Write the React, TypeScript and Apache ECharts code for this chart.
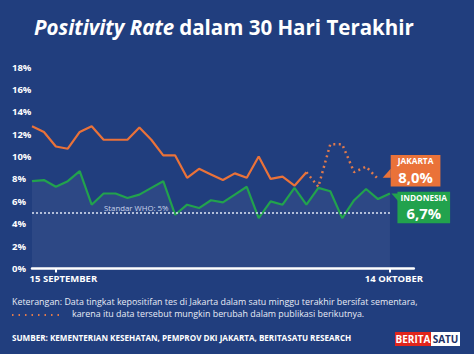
import React, { useEffect, useRef } from "react";
import * as echarts from "echarts";

const dates = [
  "13 Sep", "14 Sep", "15 Sep", "16 Sep", "17 Sep", "18 Sep", "19 Sep", "20 Sep",
  "21 Sep", "22 Sep", "23 Sep", "24 Sep", "25 Sep", "26 Sep", "27 Sep", "28 Sep",
  "29 Sep", "30 Sep", "1 Okt", "2 Okt", "3 Okt", "4 Okt", "5 Okt", "6 Okt",
  "7 Okt", "8 Okt", "9 Okt", "10 Okt", "11 Okt", "12 Okt", "13 Okt", "14 Okt", "15 Okt",
];

const jakarta = [
  12.7, 12.2, 10.9, 10.7, 12.2, 12.7, 11.5, 11.5, 11.5, 12.6, 11.5, 10.1, 10.1, 8.1, 8.9,
  8.4, 7.9, 8.5, 8.1, 10.0, 8.0, 8.2, 7.4, 8.6, 7.3, 11.1, 11.1, 8.6, 9.1, 8.0,
];

const indonesia = [
  7.8, 7.9, 7.3, 7.8, 8.7, 5.7, 6.7, 6.7, 6.3, 6.6, 7.2, 7.8, 4.8, 5.7, 5.4, 6.1,
  5.9, 6.6, 7.3, 4.5, 6.0, 5.7, 7.2, 5.7, 7.2, 6.9, 4.5, 6.1, 7.1, 6.2, 6.7,
];

const provisionalFrom = 23;
const whoStandard = 5;

const tickLabelIndex = [2, 30];
const tickLabelText = ["15 SEPTEMBER", "14 OKTOBER"];
const tickLabelPad = [15, 8];

const yTicks = { min: 0, max: 18, interval: 2 };

const BG = "#213e7e";
const ORANGE = "#ea7239";
const GREEN = "#22a24d";
const FONT = "Open Sans";

const fmt = (v: number) => v.toFixed(1).replace(".", ",") + "%";

export default function App() {
  const ref = useRef<HTMLDivElement>(null);
  useEffect(() => {
    if (!ref.current) return;
    const chart = echarts.init(ref.current, undefined, { renderer: "svg" });

    const jakSolid = jakarta.map((v, i) => (i <= provisionalFrom ? v : null));
    const jakDotted = jakarta.map((v, i) => (i >= provisionalFrom ? v : null));
    const jLast = jakarta.length - 1;
    const iLast = indonesia.length - 1;

    const calloutRich = {
      a: { fontFamily: FONT, fontWeight: "bold", fontSize: 8.3, color: "#fff", align: "center", lineHeight: 12 },
      b: { fontFamily: FONT, fontWeight: "bold", fontSize: 14.8, color: "#fff", align: "center", lineHeight: 19.5 },
    };

    chart.setOption({
      animation: false,
      backgroundColor: BG,
      title: {
        text: "{i|Positivity Rate} {n|dalam 30 Hari Terakhir}",
        left: 29,
        top: 11,
        textStyle: {
          rich: {
            i: { fontFamily: FONT, fontStyle: "italic", fontWeight: "bold", fontSize: 20.5, color: "#fff" },
            n: { fontFamily: FONT, fontWeight: "bold", fontSize: 20.5, color: "#fff" },
          },
        },
      },
      grid: { left: 32, right: 60.2, top: 67, bottom: 85.5, containLabel: false },
      xAxis: {
        type: "category",
        data: dates,
        boundaryGap: false,
        axisLine: { show: true, lineStyle: { color: "#ffffff", width: 2.5 } },
        axisTick: {
          show: true,
          interval: (idx: number) => tickLabelIndex.includes(idx),
          length: 4,
          lineStyle: { color: "#ffffff", width: 2 },
        },
        axisLabel: {
          show: true,
          interval: (idx: number) => tickLabelIndex.includes(idx),
          margin: 5,
          formatter: (_v: string, idx: number) => {
            const k = tickLabelIndex.indexOf(idx);
            if (k < 0) return "";
            return k === 0 ? "{a|" + tickLabelText[k] + "}" : "{b|" + tickLabelText[k] + "}";
          },
          rich: {
            a: { fontFamily: FONT, fontWeight: "bold", fontSize: 9.5, color: "#fff", padding: [0, 0, 0, tickLabelPad[0]] },
            b: { fontFamily: FONT, fontWeight: "bold", fontSize: 9.5, color: "#fff", padding: [0, 0, 0, tickLabelPad[1]] },
          },
        },
        splitLine: { show: false },
      },
      yAxis: {
        type: "value",
        min: yTicks.min,
        max: yTicks.max,
        interval: yTicks.interval,
        axisLine: { show: false },
        axisTick: { show: false },
        splitLine: { show: false },
        axisLabel: {
          formatter: "{value}%",
          color: "#fff",
          fontFamily: FONT,
          fontWeight: "bold",
          fontSize: 9.5,
          align: "left",
          margin: 20,
        },
      },
      series: [
        {
          name: "Indonesia",
          type: "line",
          data: indonesia,
          showSymbol: false,
          lineStyle: { color: GREEN, width: 2.2 },
          itemStyle: { color: GREEN },
          areaStyle: { color: "rgba(255,255,255,0.08)", origin: "start" },
          z: 2,
          markLine: {
            silent: true,
            symbol: "none",
            lineStyle: { color: "#dfe6f5", type: [2, 2], width: 1.5 },
            label: {
              show: true,
              position: "insideStartTop",
              formatter: "Standar WHO: " + whoStandard + "%",
              color: "#c9d3ea",
              fontFamily: FONT,
              fontSize: 7.8,
              distance: 1,
              padding: [0, 0, 0, 71],
            },
            data: [[{ coord: [dates[0], whoStandard] }, { coord: [dates[iLast], whoStandard] }]],
          },
          markPoint: {
            silent: true,
            symbol: "path://M0,0 L10,0 L10,10 Z",
            symbolSize: [8, 9],
            symbolOffset: [5.5, 4.5],
            itemStyle: { color: GREEN },
            label: {
              show: true,
              position: "right",
              distance: 0,
              offset: [-2, 9.5],
              backgroundColor: GREEN,
              padding: [0, 3, 0, 3],
              formatter: "{a|INDONESIA}\n{b|" + fmt(indonesia[iLast]) + "}",
              rich: calloutRich,
            },
            data: [{ coord: [dates[iLast], indonesia[iLast]] }],
          },
        },
        {
          name: "Jakarta",
          type: "line",
          data: jakSolid,
          showSymbol: false,
          connectNulls: false,
          lineStyle: { color: ORANGE, width: 2.2 },
          itemStyle: { color: ORANGE },
          z: 3,
        },
        {
          name: "Jakarta (sementara)",
          type: "line",
          data: jakDotted,
          showSymbol: false,
          connectNulls: false,
          lineStyle: { color: "#e07a4c", width: 2.5, type: [2, 3.5] },
          itemStyle: { color: ORANGE },
          z: 3,
          markPoint: {
            silent: true,
            symbol: "path://M10,0 L10,10 L0,10 Z",
            symbolSize: [8, 9],
            symbolOffset: [8.7, -5.8],
            itemStyle: { color: ORANGE },
            label: {
              show: true,
              position: "right",
              distance: 0,
              offset: [0, -2.5],
              backgroundColor: ORANGE,
              padding: [0, 7, 0, 7],
              formatter: "{a|JAKARTA}\n{b|" + fmt(jakarta[jLast]) + "}",
              rich: calloutRich,
            },
            data: [{ coord: [dates[jLast], jakarta[jLast]] }],
          },
        },
      ],
      graphic: [
        {
          type: "text",
          left: 12,
          top: 297,
          style: {
            rich: {
              a: { fontFamily: FONT, fontSize: 8.9, fill: "#e8ecf6", lineHeight: 12.2 },
              b: { fontFamily: FONT, fontSize: 8.9, fill: "#e8ecf6", lineHeight: 12.2, padding: [0, 0, 0, 60] },
            },
            text:
              "{a|Keterangan: Data tingkat kepositifan tes di Jakarta dalam satu minggu terakhir bersifat sementara,}\n" +
              "{b|karena itu data tersebut mungkin berubah dalam publikasi berikutnya.}",
          },
        },
        {
          type: "line",
          shape: { x1: 12, y1: 315, x2: 60, y2: 315 },
          style: { stroke: "#e07a4c", lineWidth: 2, lineDash: [1.5, 5] },
        },
        {
          type: "text",
          left: 12,
          top: 333,
          style: {
            text: "SUMBER: KEMENTERIAN KESEHATAN, PEMPROV DKI JAKARTA, BERITASATU RESEARCH",
            fill: "#ffffff",
            font: "bold 8.1px 'Open Sans'",
          },
        },
        {
          type: "group",
          left: 395,
          top: 332,
          children: [
            { type: "rect", shape: { x: 0, y: 0, width: 36, height: 14 }, style: { fill: "#e1251b" } },
            { type: "rect", shape: { x: 36, y: 0, width: 29, height: 14 }, style: { fill: "#ffffff" } },
            {
              type: "text",
              x: 18,
              y: 7,
              style: { text: "BERITA", fill: "#fff", font: "bold 10px 'Open Sans'", align: "center", verticalAlign: "middle" },
            },
            {
              type: "text",
              x: 50.5,
              y: 7,
              style: { text: "SATU", fill: "#1c2f66", font: "bold 10px 'Open Sans'", align: "center", verticalAlign: "middle" },
            },
          ],
        },
      ],
    });

    return () => chart.dispose();
  }, []);

  return (
    <div
      ref={ref}
      style={{ position: "fixed", left: 0, top: 0, width: 474, height: 354 }}
    />
  );
}
